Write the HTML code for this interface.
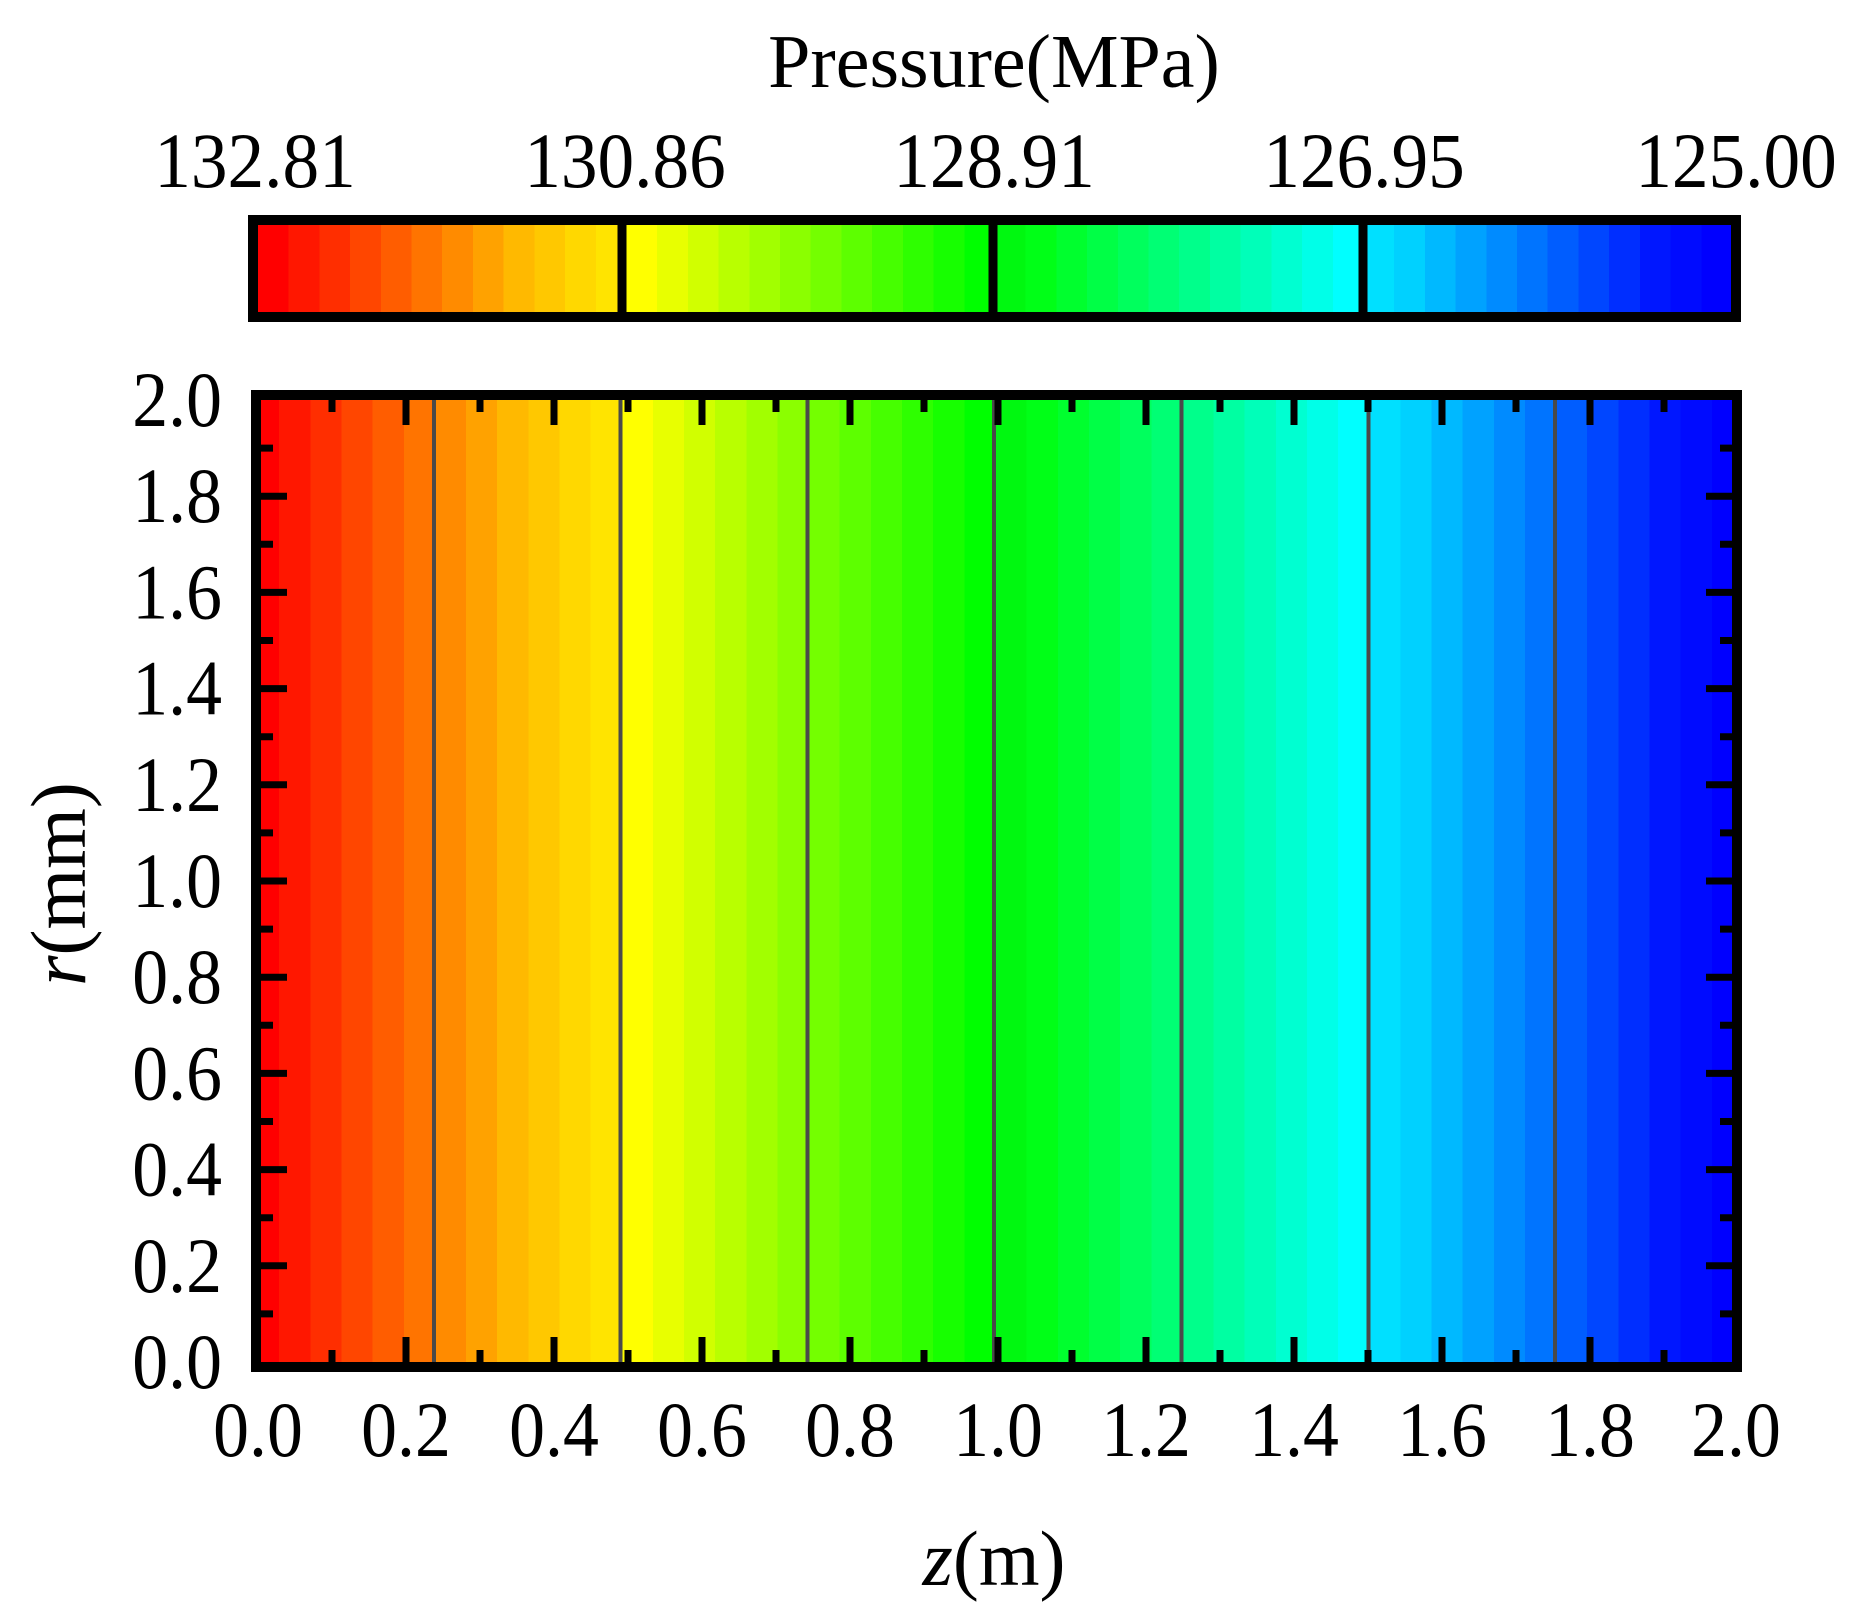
<!DOCTYPE html>
<html><head><meta charset="utf-8"><style>html,body{margin:0;padding:0;background:#fff}svg{display:block}</style></head>
<body>
<svg width="1851" height="1618" viewBox="0 0 1851 1618" xmlns="http://www.w3.org/2000/svg" font-family="'Liberation Serif', serif">
<defs>
<clipPath id="pc"><rect x="256" y="395" width="1481" height="972"/></clipPath>
<linearGradient id="g" x1="0" y1="0" x2="1" y2="0">
<stop offset="0%" stop-color="#ff0000"/><stop offset="2.08%" stop-color="#ff0000"/>
<stop offset="2.08%" stop-color="#ff1700"/><stop offset="4.17%" stop-color="#ff1700"/>
<stop offset="4.17%" stop-color="#ff2e00"/><stop offset="6.25%" stop-color="#ff2e00"/>
<stop offset="6.25%" stop-color="#ff4600"/><stop offset="8.33%" stop-color="#ff4600"/>
<stop offset="8.33%" stop-color="#ff5d00"/><stop offset="10.42%" stop-color="#ff5d00"/>
<stop offset="10.42%" stop-color="#ff7400"/><stop offset="12.5%" stop-color="#ff7400"/>
<stop offset="12.5%" stop-color="#ff8b00"/><stop offset="14.58%" stop-color="#ff8b00"/>
<stop offset="14.58%" stop-color="#ffa200"/><stop offset="16.67%" stop-color="#ffa200"/>
<stop offset="16.67%" stop-color="#ffb900"/><stop offset="18.75%" stop-color="#ffb900"/>
<stop offset="18.75%" stop-color="#ffc800"/><stop offset="20.83%" stop-color="#ffc800"/>
<stop offset="20.83%" stop-color="#ffd800"/><stop offset="22.92%" stop-color="#ffd800"/>
<stop offset="22.92%" stop-color="#ffe400"/><stop offset="25%" stop-color="#ffe400"/>
<stop offset="25%" stop-color="#ffff00"/><stop offset="27.08%" stop-color="#ffff00"/>
<stop offset="27.08%" stop-color="#e8ff00"/><stop offset="29.17%" stop-color="#e8ff00"/>
<stop offset="29.17%" stop-color="#d1ff00"/><stop offset="31.25%" stop-color="#d1ff00"/>
<stop offset="31.25%" stop-color="#b9ff00"/><stop offset="33.33%" stop-color="#b9ff00"/>
<stop offset="33.33%" stop-color="#a2ff00"/><stop offset="35.42%" stop-color="#a2ff00"/>
<stop offset="35.42%" stop-color="#8bff00"/><stop offset="37.5%" stop-color="#8bff00"/>
<stop offset="37.5%" stop-color="#74ff00"/><stop offset="39.58%" stop-color="#74ff00"/>
<stop offset="39.58%" stop-color="#5dff00"/><stop offset="41.67%" stop-color="#5dff00"/>
<stop offset="41.67%" stop-color="#46ff00"/><stop offset="43.75%" stop-color="#46ff00"/>
<stop offset="43.75%" stop-color="#2eff00"/><stop offset="45.83%" stop-color="#2eff00"/>
<stop offset="45.83%" stop-color="#17ff00"/><stop offset="47.92%" stop-color="#17ff00"/>
<stop offset="47.92%" stop-color="#00ff00"/><stop offset="50%" stop-color="#00ff00"/>
<stop offset="50%" stop-color="#00f810"/><stop offset="52.08%" stop-color="#00f810"/>
<stop offset="52.08%" stop-color="#00ff17"/><stop offset="54.17%" stop-color="#00ff17"/>
<stop offset="54.17%" stop-color="#00ff2e"/><stop offset="56.25%" stop-color="#00ff2e"/>
<stop offset="56.25%" stop-color="#00ff46"/><stop offset="58.33%" stop-color="#00ff46"/>
<stop offset="58.33%" stop-color="#00ff5d"/><stop offset="60.42%" stop-color="#00ff5d"/>
<stop offset="60.42%" stop-color="#00ff74"/><stop offset="62.5%" stop-color="#00ff74"/>
<stop offset="62.5%" stop-color="#00ff8b"/><stop offset="64.58%" stop-color="#00ff8b"/>
<stop offset="64.58%" stop-color="#00ffa2"/><stop offset="66.67%" stop-color="#00ffa2"/>
<stop offset="66.67%" stop-color="#00ffb9"/><stop offset="68.75%" stop-color="#00ffb9"/>
<stop offset="68.75%" stop-color="#00ffd1"/><stop offset="70.83%" stop-color="#00ffd1"/>
<stop offset="70.83%" stop-color="#00ffe8"/><stop offset="72.92%" stop-color="#00ffe8"/>
<stop offset="72.92%" stop-color="#00ffff"/><stop offset="75%" stop-color="#00ffff"/>
<stop offset="75%" stop-color="#00e0ff"/><stop offset="77.08%" stop-color="#00e0ff"/>
<stop offset="77.08%" stop-color="#00d1ff"/><stop offset="79.17%" stop-color="#00d1ff"/>
<stop offset="79.17%" stop-color="#00b9ff"/><stop offset="81.25%" stop-color="#00b9ff"/>
<stop offset="81.25%" stop-color="#00a2ff"/><stop offset="83.33%" stop-color="#00a2ff"/>
<stop offset="83.33%" stop-color="#008bff"/><stop offset="85.42%" stop-color="#008bff"/>
<stop offset="85.42%" stop-color="#0074ff"/><stop offset="87.5%" stop-color="#0074ff"/>
<stop offset="87.5%" stop-color="#005dff"/><stop offset="89.58%" stop-color="#005dff"/>
<stop offset="89.58%" stop-color="#0046ff"/><stop offset="91.67%" stop-color="#0046ff"/>
<stop offset="91.67%" stop-color="#002eff"/><stop offset="93.75%" stop-color="#002eff"/>
<stop offset="93.75%" stop-color="#0017ff"/><stop offset="95.83%" stop-color="#0017ff"/>
<stop offset="95.83%" stop-color="#000bff"/><stop offset="97.92%" stop-color="#000bff"/>
<stop offset="97.92%" stop-color="#0000ff"/><stop offset="100%" stop-color="#0000ff"/>
</linearGradient>
</defs>

<text x="994" y="87" font-size="76" text-anchor="middle">Pressure(MPa)</text>
<g font-size="78" text-anchor="middle">
<text transform="translate(255,187) scale(0.94,1)">132.81</text>
<text transform="translate(625,187) scale(0.94,1)">130.86</text>
<text transform="translate(994,187) scale(0.94,1)">128.91</text>
<text transform="translate(1364,187) scale(0.94,1)">126.95</text>
<text transform="translate(1736,187) scale(0.94,1)">125.00</text>
</g>

<!-- colorbar -->
<rect x="258" y="225" width="1474" height="87" fill="url(#g)"/>
<g stroke="#000" stroke-width="9">
<line x1="622" y1="225" x2="622" y2="312"/>
<line x1="993" y1="225" x2="993" y2="312"/>
<line x1="1363" y1="225" x2="1363" y2="312"/>
</g>
<rect x="253" y="220" width="1483" height="97" fill="none" stroke="#000" stroke-width="10"/>

<!-- plot -->
<g clip-path="url(#pc)">
<rect x="248" y="400" width="1495" height="962" fill="url(#g)"/>
</g>
<g stroke="#4a4a4a" stroke-width="4">
<line x1="434" y1="400" x2="434" y2="1362"/>
<line x1="620.5" y1="400" x2="620.5" y2="1362"/>
<line x1="807.5" y1="400" x2="807.5" y2="1362"/>
<line x1="994" y1="400" x2="994" y2="1362"/>
<line x1="1181.5" y1="400" x2="1181.5" y2="1362"/>
<line x1="1368.5" y1="400" x2="1368.5" y2="1362"/>
<line x1="1555" y1="400" x2="1555" y2="1362"/>
</g>
<g stroke="#000" stroke-width="7" fill="none">
<path d="M406 1362v-25M554 1362v-25M702 1362v-25M850 1362v-25M998 1362v-25M1146 1362v-25M1294 1362v-25M1442 1362v-25M1590 1362v-25"/>
<path d="M332 1362v-12M480 1362v-12M628 1362v-12M776 1362v-12M924 1362v-12M1072 1362v-12M1220 1362v-12M1368 1362v-12M1516 1362v-12M1664 1362v-12"/>
<path d="M406 400v25M554 400v25M702 400v25M850 400v25M998 400v25M1146 400v25M1294 400v25M1442 400v25M1590 400v25"/>
<path d="M332 400v12M480 400v12M628 400v12M776 400v12M924 400v12M1072 400v12M1220 400v12M1368 400v12M1516 400v12M1664 400v12"/>
<path d="M261 1265.8h26M261 1169.6h26M261 1073.4h26M261 977.2h26M261 881h26M261 784.8h26M261 688.6h26M261 592.4h26M261 496.2h26"/>
<path d="M261 1313.9h12M261 1217.7h12M261 1121.5h12M261 1025.3h12M261 929.1h12M261 832.9h12M261 736.7h12M261 640.5h12M261 544.3h12M261 448.1h12"/>
<path d="M1732 1265.8h-26M1732 1169.6h-26M1732 1073.4h-26M1732 977.2h-26M1732 881h-26M1732 784.8h-26M1732 688.6h-26M1732 592.4h-26M1732 496.2h-26"/>
<path d="M1732 1313.9h-12M1732 1217.7h-12M1732 1121.5h-12M1732 1025.3h-12M1732 929.1h-12M1732 832.9h-12M1732 736.7h-12M1732 640.5h-12M1732 544.3h-12M1732 448.1h-12"/>
</g>
<rect x="256" y="395" width="1481" height="972" fill="none" stroke="#000" stroke-width="10"/>

<g font-size="78" text-anchor="middle">
<text transform="translate(258,1456) scale(0.92,1)">0.0</text>
<text transform="translate(406,1456) scale(0.92,1)">0.2</text>
<text transform="translate(554,1456) scale(0.92,1)">0.4</text>
<text transform="translate(702,1456) scale(0.92,1)">0.6</text>
<text transform="translate(850,1456) scale(0.92,1)">0.8</text>
<text transform="translate(998,1456) scale(0.92,1)">1.0</text>
<text transform="translate(1146,1456) scale(0.92,1)">1.2</text>
<text transform="translate(1294,1456) scale(0.92,1)">1.4</text>
<text transform="translate(1442,1456) scale(0.92,1)">1.6</text>
<text transform="translate(1590,1456) scale(0.92,1)">1.8</text>
<text transform="translate(1736,1456) scale(0.92,1)">2.0</text>
</g>
<g font-size="78" text-anchor="end">
<text transform="translate(222,1388) scale(0.92,1)">0.0</text>
<text transform="translate(222,1291.8) scale(0.92,1)">0.2</text>
<text transform="translate(222,1195.6) scale(0.92,1)">0.4</text>
<text transform="translate(222,1099.4) scale(0.92,1)">0.6</text>
<text transform="translate(222,1003.2) scale(0.92,1)">0.8</text>
<text transform="translate(222,907) scale(0.92,1)">1.0</text>
<text transform="translate(222,810.8) scale(0.92,1)">1.2</text>
<text transform="translate(222,714.6) scale(0.92,1)">1.4</text>
<text transform="translate(222,618.4) scale(0.92,1)">1.6</text>
<text transform="translate(222,522.2) scale(0.92,1)">1.8</text>
<text transform="translate(222,426) scale(0.92,1)">2.0</text>
</g>
<text x="994" y="1585" font-size="78" text-anchor="middle"><tspan font-style="italic">z</tspan>(m)</text>
<text transform="translate(85,884) rotate(-90)" font-size="78" text-anchor="middle"><tspan font-style="italic">r</tspan>(mm)</text>
</svg>
</body></html>
